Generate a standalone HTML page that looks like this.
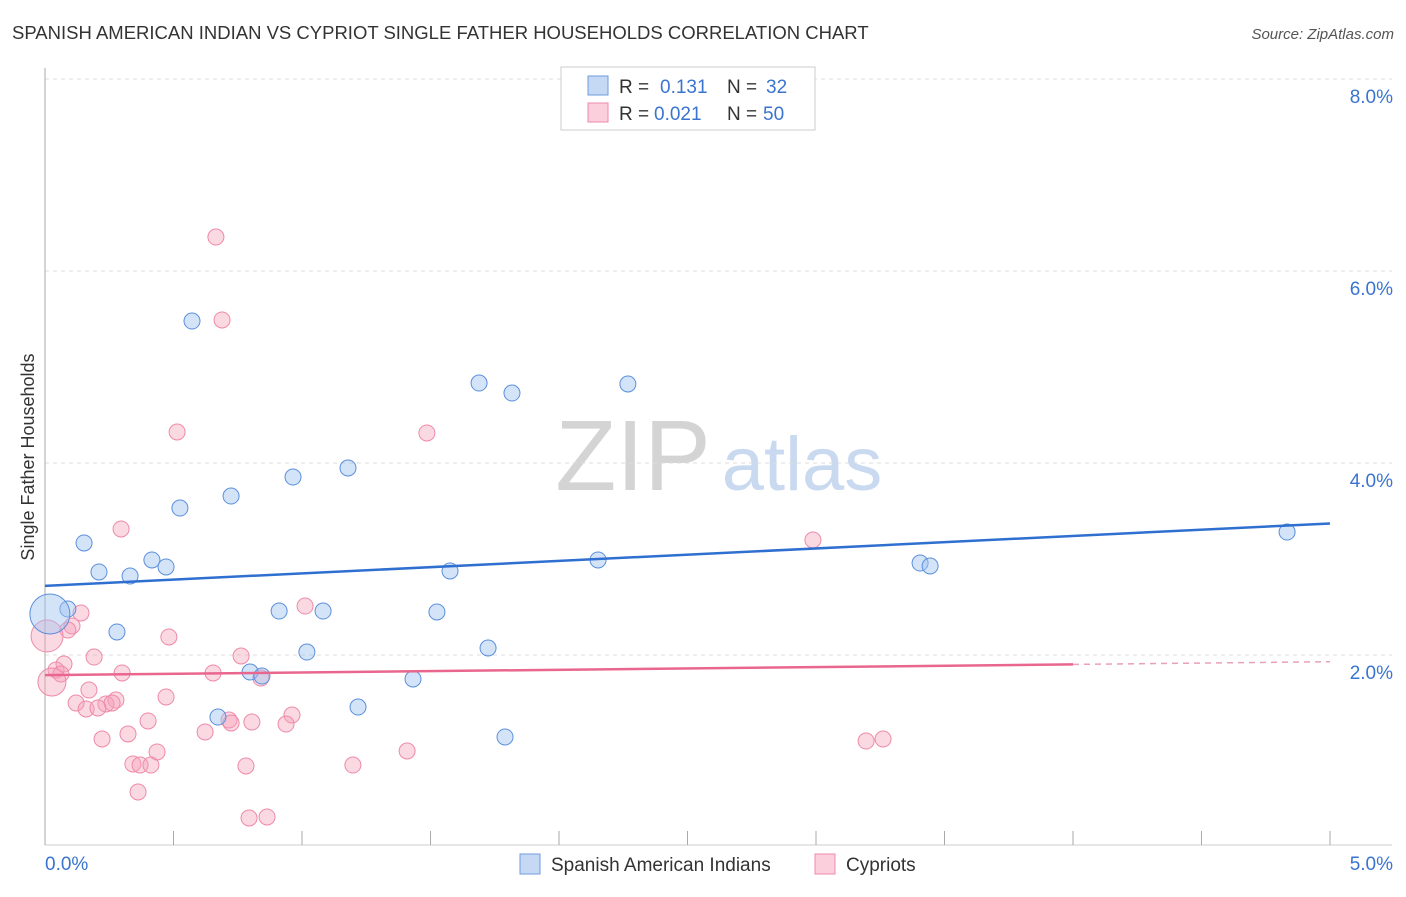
<!DOCTYPE html>
<html><head><meta charset="utf-8"><style>
body{margin:0;background:#fff;font-family:"Liberation Sans",sans-serif;}
svg text{font-family:"Liberation Sans",sans-serif;}
</style></head><body>
<svg id="chart" width="1406" height="892" xmlns="http://www.w3.org/2000/svg">
<text x="12" y="39" font-size="18.5" fill="#333">SPANISH AMERICAN INDIAN VS CYPRIOT SINGLE FATHER HOUSEHOLDS CORRELATION CHART</text>
<text x="1394" y="39" font-size="15" fill="#555" text-anchor="end" font-style="italic">Source: ZipAtlas.com</text>
<text x="633" y="490" font-size="100" fill="#d4d4d4" text-anchor="middle" font-family="Liberation Serif,serif">ZIP</text>
<text x="802" y="490" font-size="76" fill="#c9daf0" text-anchor="middle">atlas</text>
<text transform="translate(34,457) rotate(-90)" font-size="18" fill="#333" text-anchor="middle">Single Father Households</text>
<g id="grid"></g><g id="axes"></g><g id="marks"></g>
<g>
<rect x="561" y="67" width="254" height="63" fill="#fff" stroke="#ccc"/>
<rect x="588" y="76" width="20" height="19" fill="#c5d9f5" stroke="#6f9be0"/>
<rect x="588" y="103" width="20" height="19" fill="#fbd0dc" stroke="#ee8aa8"/>
<text x="619" y="93" font-size="19" fill="#333">R = </text><text x="660" y="93" font-size="19" fill="#3a74d0">0.131</text>
<text x="727" y="93" font-size="19" fill="#333">N = </text><text x="766" y="93" font-size="19" fill="#3a74d0">32</text>
<text x="619" y="120" font-size="19" fill="#333">R = </text><text x="654" y="120" font-size="19" fill="#3a74d0">0.021</text>
<text x="727" y="120" font-size="19" fill="#333">N = </text><text x="763" y="120" font-size="19" fill="#3a74d0">50</text>
</g>
<g>
<rect x="520" y="854" width="20" height="20" fill="#c5d9f5" stroke="#6f9be0"/>
<text x="551" y="871" font-size="19" fill="#333">Spanish American Indians</text>
<rect x="815" y="854" width="20" height="20" fill="#fbd0dc" stroke="#ee8aa8"/>
<text x="846" y="871" font-size="19" fill="#333">Cypriots</text>
</g>
</svg>
<script>
const yTicks=[2,4,6,8];
const yTickLabels=["2.0%","4.0%","6.0%","8.0%"];
const xTickLabels=["0.0%","5.0%"];
const blueX=[0.572,1.689,1.817,2.268,1.179,0.965,0.724,0.525,0.152,0.210,0.331,0.416,0.471,1.576,2.152,3.405,3.444,4.833,0.089,0.019,0.911,1.082,1.525,0.280,1.019,1.724,0.798,0.844,1.432,0.673,1.218,1.790];
const blueY=[5.479,4.833,4.729,4.823,3.948,3.854,3.656,3.531,3.167,2.865,2.823,2.990,2.917,2.875,2.990,2.958,2.927,3.281,2.479,2.427,2.458,2.458,2.448,2.240,2.031,2.073,1.823,1.781,1.750,1.354,1.458,1.146];
const blueR=[8,8,8,8,8,8,8,8,8,8,8,8,8,8,8,8,8,8,8,20,8,8,8,8,8,8,8,8,8,8,8,8];
const pinkX=[0.665,0.689,0.514,1.486,0.296,2.988,0.140,1.012,0.105,0.089,0.008,0.482,0.191,0.763,0.074,0.043,0.062,0.300,0.654,0.840,0.027,0.171,0.471,0.121,0.276,0.237,0.261,0.160,0.206,0.961,0.401,0.716,0.724,0.805,0.938,0.623,0.323,0.222,0.436,1.409,3.195,3.261,0.342,0.370,0.412,0.782,1.198,0.362,0.794,0.864];
const pinkY=[6.354,5.490,4.323,4.313,3.313,3.198,2.438,2.510,2.302,2.260,2.198,2.188,1.979,1.990,1.906,1.844,1.802,1.813,1.813,1.760,1.719,1.635,1.563,1.500,1.531,1.490,1.500,1.438,1.448,1.375,1.313,1.323,1.292,1.302,1.281,1.198,1.177,1.125,0.990,1.000,1.104,1.125,0.865,0.854,0.854,0.844,0.854,0.573,0.302,0.313];
const pinkR=[8,8,8,8,8,8,8,8,8,8,16,8,8,8,8,8,8,8,8,8,14,8,8,8,8,8,8,8,8,8,8,8,8,8,8,8,8,8,8,8,8,8,8,8,8,8,8,8,8,8];
const blueTrend=[2.72,3.37];
const pinkTrend=[1.79,1.93];
const pinkSolidEnd=4.0;
const NS="http://www.w3.org/2000/svg";
const xs=v=>45+v/5*1285, ys=v=>847-v*96;
function mk(t,a,p){const e=document.createElementNS(NS,t);for(const k in a)e.setAttribute(k,a[k]);p.appendChild(e);return e;}
const grid=document.getElementById('grid'),axes=document.getElementById('axes'),marks=document.getElementById('marks');
yTicks.forEach((v,i)=>{
 const l=mk('line',{x1:45,x2:1392,y1:ys(v),y2:ys(v),stroke:'#ddd','stroke-dasharray':'4,4'},grid);
 
 
 const t=mk('text',{x:1393,y:ys(v)+24,'font-size':19,fill:'#3a74d0','text-anchor':'end'},axes);t.textContent=yTickLabels[i];
 
 
});
mk('line',{x1:45,x2:45,y1:68,y2:845,stroke:'#aaa'},axes);
mk('line',{x1:45,x2:1392,y1:845,y2:845,stroke:'#ccc'},axes);
for(let i=0;i<=10;i++){const x=xs(i*0.5);const t=mk('line',{x1:x,x2:x,y1:831,y2:845,stroke:'#aaa'},axes);
 
 }
[0,5].forEach((v,i)=>{const t=mk('text',{x:i?1393:45,y:870,'font-size':19,fill:'#3a74d0','text-anchor':i?'end':'start'},axes);t.textContent=xTickLabels[i];
 
 });
pinkX.forEach((v,i)=>{const c=mk('circle',{cx:xs(v),cy:ys(pinkY[i]),r:pinkR[i],fill:'rgba(246,160,185,0.4)',stroke:'#ee8aa8','stroke-width':1},marks);
 
 });
blueX.forEach((v,i)=>{const c=mk('circle',{cx:xs(v),cy:ys(blueY[i]),r:blueR[i],fill:'rgba(160,195,240,0.45)',stroke:'#5b8fdc','stroke-width':1},marks);
 
 });
const bl=mk('line',{x1:xs(0),y1:ys(blueTrend[0]),x2:xs(5),y2:ys(blueTrend[1]),stroke:'#2f6fd0','stroke-width':2.5},marks);


const pe=pinkTrend[0]+(pinkTrend[1]-pinkTrend[0])*pinkSolidEnd/5;
const pl=mk('line',{x1:xs(0),y1:ys(pinkTrend[0]),x2:xs(pinkSolidEnd),y2:ys(pe),stroke:'#e9668f','stroke-width':2.5},marks);


const pd=mk('line',{x1:xs(pinkSolidEnd),y1:ys(pe),x2:xs(5),y2:ys(pinkTrend[1]),stroke:'#e9a0b8','stroke-width':1.5,'stroke-dasharray':'6,5'},marks);


</script>
</body></html>
